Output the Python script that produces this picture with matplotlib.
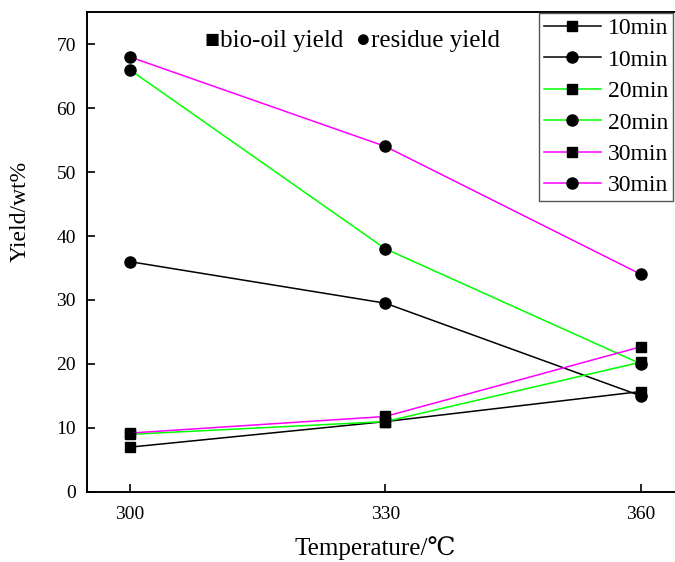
import matplotlib
matplotlib.use('Agg')
import matplotlib.pyplot as plt
from matplotlib import font_manager

# ============================================
#              data
# ============================================
temps = [300, 330, 360]

oil_10 = [7.0, 11.0, 15.7]
res_10 = [36.0, 29.5, 15.0]
oil_20 = [9.0, 11.0, 20.3]
res_20 = [66.0, 38.0, 20.0]
oil_30 = [9.2, 11.8, 22.7]
res_30 = [68.0, 54.0, 34.0]

series_labels = ['10min', '10min', '20min', '20min', '30min', '30min']
series_colors = ['black', 'black', '#00ff00', '#00ff00', '#ff00ff', '#ff00ff']
series_markers = ['s', 'o', 's', 'o', 's', 'o']
series_values = [oil_10, res_10, oil_20, res_20, oil_30, res_30]

yticks = [0, 10, 20, 30, 40, 50, 60, 70]
xticks = [300, 330, 360]

# pick a Times-like serif that is actually installed
installed = {f.name for f in font_manager.fontManager.ttflist}
serif = [n for n in ['Liberation Serif', 'Times New Roman', 'Nimbus Roman',
                     'DejaVu Serif', 'Noto Sans CJK SC'] if n in installed]
plt.rcParams['font.family'] = serif

fig = plt.figure(figsize=(6.75, 5.62), dpi=100)
ax = fig.add_axes([0.1289, 0.1246, 0.884, 0.854])

for vals, col, mk, lab in zip(series_values, series_colors, series_markers, series_labels):
    ms = 7 if mk == 's' else 8
    ax.plot(temps, vals, color=col, linewidth=1.1, marker=mk, markersize=ms,
            markerfacecolor='black', markeredgecolor='black', label=lab)

ax.set_xlim(295, 365)
ax.set_ylim(0, 75)
ax.set_xticks(xticks)
ax.set_yticks(yticks)
ax.tick_params(direction='in', labelsize=14, width=1.2, length=6)
ax.tick_params(axis='x', pad=10)
ax.tick_params(axis='y', pad=8)
for s in ax.spines.values():
    s.set_linewidth(1.4)

ax.set_xlabel('Temperature/℃', fontsize=18)
ax.set_ylabel('Yield/wt%', fontsize=17)
ax.xaxis.set_label_coords(0.483, -0.117)
ax.yaxis.set_label_coords(-0.112, 0.585)
ax.xaxis.label.set_va('center')
ax.yaxis.label.set_va('center')

ax.text(308.8, 70.4, '■bio-oil yield  ●residue yield', fontsize=18,
        va='center', ha='left', family=serif)

leg = ax.legend(loc='upper right', bbox_to_anchor=(673 / 675, 1 - 13 / 562),
                bbox_transform=fig.transFigure, fontsize=17, handlelength=2.4,
                handletextpad=0.3, labelspacing=0.42, borderaxespad=0,
                borderpad=0.2, fancybox=False, framealpha=1)
leg.get_frame().set_edgecolor('#555555')
leg.get_frame().set_linewidth(1.0)

fig.savefig('out.png', dpi=100)
